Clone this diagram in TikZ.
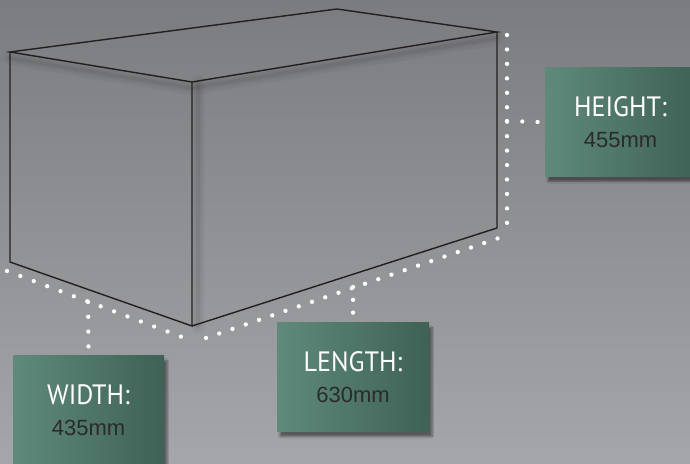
\documentclass[tikz,border=0pt]{standalone}
\usepackage{fontspec}
\newfontfamily\labelfont{PT Sans}[FakeStretch=0.93]
\newfontfamily\numfont{Liberation Sans}
\usetikzlibrary{shadows.blur}
\definecolor{bgtop}{HTML}{7B7C80}
\definecolor{bgbot}{HTML}{A5A6AA}
\definecolor{tealL}{HTML}{5F8A7B}
\definecolor{tealR}{HTML}{3E6255}
\definecolor{edgeink}{HTML}{231F20}
\definecolor{numink}{HTML}{2B2B2B}
\tikzset{
  edge/.style={draw=edgeink, line width=1.4pt, line join=miter},
  dotline/.style={draw=white, line width=4.3pt, line cap=round, dash pattern=on 0pt off #1},
  dotline/.default=14.45pt,
  tag/.style={minimum width=151pt, minimum height=109pt, inner sep=0pt,
    left color=tealL, right color=tealR, align=center, text=white,
    font=\fontsize{22}{31}\selectfont,
    blur shadow={shadow xshift=3pt, shadow yshift=-5pt, shadow blur steps=6, shadow opacity=45}},
}
\newcommand\tagtext[2]{{\labelfont\fontsize{28}{31}\selectfont #1}\\{\numfont\fontsize{22}{31}\selectfont\color{numink}#2}}

\begin{document}
\begin{tikzpicture}[x=1pt,y=-1pt]
    \useasboundingbox (0,0) rectangle (690,463);
    \fill[top color=bgtop,bottom color=bgbot] (0,0) rectangle (690,463);
    % corners of the box
    \coordinate (A) at (10,52);
    \coordinate (B) at (192,82);
    \coordinate (C) at (337,9);
    \coordinate (D) at (497,32);
    \coordinate (E) at (10,262);
    \coordinate (F) at (192,326);
    \coordinate (G) at (497,228);
    % soft shading below the top edges
    \begin{scope}[black,line cap=round]
      \foreach \w/\o in {14/0.03,8/0.04,4/0.05}{
        \draw[opacity=\o,line width=\w pt] ([yshift=-6pt]A) -- ([yshift=-6pt]B) -- ([yshift=-6pt]D);
        \draw[opacity=\o,line width=\w pt] ([xshift=6pt]B) -- ([xshift=6pt]F);
      }
    \end{scope}
    \draw[edge] (A) -- (C) -- (D) -- (B) -- cycle;
    \draw[edge] (A) -- (E) -- (F) -- (B);
    \draw[edge] (F) -- (G) -- (D);
    % labels
    \node[tag] (hbox) at (620.5,122) {\tagtext{HEIGHT:}{455mm}};
    \node[tag] (wbox) at (88.5,410) {\tagtext{WIDTH:}{435mm}};
    \node[tag,minimum width=152pt] (lbox) at (353,377) {\tagtext{LENGTH:}{630mm}};
    % dimension dots
    \coordinate (hTop) at (507,35);
    \coordinate (hBot) at (507,224.5);
    \coordinate (hMid) at (507,121);
    \coordinate (wL) at (7,271);
    \coordinate (wR) at (182.5,337.2);
    \coordinate (wMid) at (88,302);
    \coordinate (lL) at (206,338);
    \coordinate (lR) at (499.5,237.8);
    \coordinate (lMid) at (353,287);
    \draw[dotline] (hTop) -- (hBot);
    \draw[dotline=15.3pt] (hMid) -- ([xshift=-6.5pt]hbox.west);
    \draw[dotline=14.3pt] (wL) -- (wR);
    \draw[dotline=14.8pt] (wMid) -- ([yshift=8pt]wbox.north);
    \draw[dotline=14pt] (lL) -- (lR);
    \draw[dotline=12.8pt] (lMid) -- ([yshift=9pt]lbox.north);
\end{tikzpicture}
\end{document}
